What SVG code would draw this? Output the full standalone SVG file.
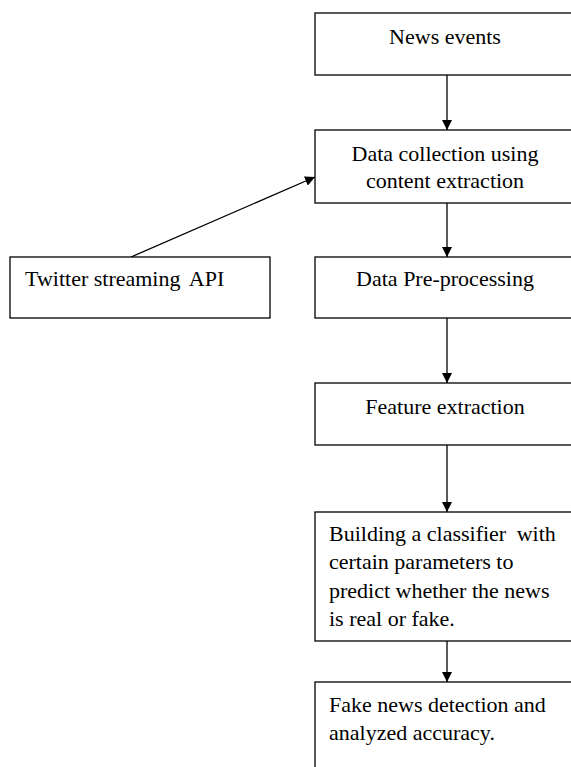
<svg xmlns="http://www.w3.org/2000/svg" width="571" height="767" viewBox="0 0 571 767">
<style>
.box{fill:#fff;stroke:#000;stroke-width:1.3}
.t{font-family:"Liberation Serif","Times New Roman",serif;font-size:22px;fill:#000}
.c{text-anchor:middle}
.ln{stroke:#000;stroke-width:1.3;fill:none}
</style>
<defs>
<marker id="ah" viewBox="0 0 10 10" refX="10" refY="5" markerWidth="10" markerHeight="10" markerUnits="userSpaceOnUse" orient="auto">
<path d="M0,0 L10,5 L0,10 Z" fill="#000"/>
</marker>
</defs>
<rect width="571" height="767" fill="#fff"/>
<g id="connectors">
<line class="ln" x1="447" y1="75" x2="447" y2="130" marker-end="url(#ah)"/>
<line class="ln" x1="447" y1="203" x2="447" y2="257" marker-end="url(#ah)"/>
<line class="ln" x1="447" y1="318" x2="447" y2="383" marker-end="url(#ah)"/>
<line class="ln" x1="447" y1="445" x2="447" y2="512" marker-end="url(#ah)"/>
<line class="ln" x1="447" y1="641" x2="447" y2="682" marker-end="url(#ah)"/>
<line class="ln" x1="131" y1="257" x2="315" y2="177" marker-end="url(#ah)"/>
</g>
<g id="news-events">
<rect class="box" x="315" y="13" width="262" height="62"/>
<text class="t c" x="445" y="44">News events</text>
</g>
<g id="data-collection">
<rect class="box" x="315" y="130" width="262" height="73"/>
<text class="t c" x="445" y="161">Data collection using</text>
<text class="t c" x="445" y="188">content extraction</text>
</g>
<g id="twitter">
<rect class="box" x="10" y="257" width="260" height="61"/>
<text class="t" x="25" y="286">Twitter streaming <tspan dx="4">API</tspan></text>
</g>
<g id="preprocessing">
<rect class="box" x="315" y="257" width="262" height="61"/>
<text class="t c" x="445" y="286">Data Pre-processing</text>
</g>
<g id="feature">
<rect class="box" x="315" y="383" width="262" height="62"/>
<text class="t c" x="445" y="414">Feature extraction</text>
</g>
<g id="classifier">
<rect class="box" x="315" y="512" width="262" height="129"/>
<text class="t" x="329" y="541">Building a classifier <tspan dx="5">with</tspan></text>
<text class="t" x="329" y="569">certain parameters to</text>
<text class="t" x="329" y="598">predict whether the news</text>
<text class="t" x="329" y="626">is real or fake.</text>
</g>
<g id="detection">
<rect class="box" x="315" y="682" width="262" height="100"/>
<text class="t" x="329" y="712">Fake news detection and</text>
<text class="t" x="329" y="740">analyzed accuracy.</text>
</g>
</svg>
